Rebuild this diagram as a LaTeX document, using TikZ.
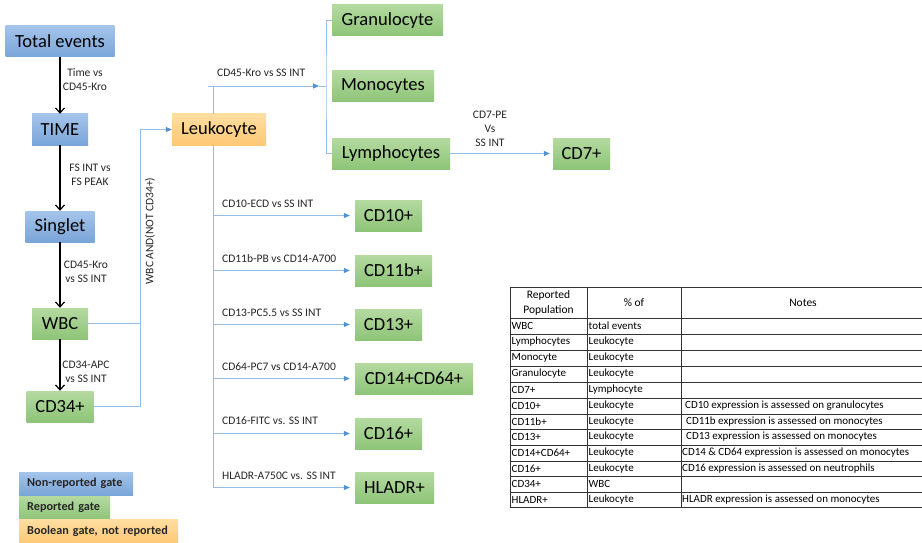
\documentclass[tikz,border=0pt]{standalone}
\usepackage{fontspec}
\setmainfont{Carlito}
\usetikzlibrary{arrows.meta}
\definecolor{bluetop}{RGB}{164,196,234}
\definecolor{bluebot}{RGB}{122,165,216}
\definecolor{greentop}{RGB}{180,218,160}
\definecolor{greenbot}{RGB}{142,196,120}
\definecolor{orangetop}{RGB}{255,222,160}
\definecolor{orangebot}{RGB}{255,200,118}
\definecolor{lineblue}{RGB}{150,190,230}
\definecolor{arrowblue}{RGB}{80,145,210}
\begin{document}
\begin{tikzpicture}[x=1pt,y=-1pt,
  box/.style={inner sep=0pt, font=\fontsize{18.5}{20}\selectfont, text=black},
  nrbox/.style={box, top color=bluetop, bottom color=bluebot},
  rbox/.style={box, top color=greentop, bottom color=greenbot},
  obox/.style={box, top color=orangetop, bottom color=orangebot},
  lbl/.style={inner sep=0pt, font=\fontsize{11.5}{14}\selectfont, align=center, text=black!85},
  tbl/.style={inner sep=0pt, font=\fontsize{11}{13}\selectfont, text=black},
  leg/.style={inner xsep=8pt, inner ysep=0pt, minimum height=23pt, align=left,
    font=\bfseries\fontsize{12.2}{13}\selectfont, text=black!85},
  blk/.style={-{Straight Barb[length=5pt,width=9pt]}, line width=1.2pt, black},
  bl/.style={draw=lineblue, line width=0.8pt},
  bla/.style={bl, -{Triangle[length=6pt,width=5pt,color=arrowblue,fill=arrowblue]}}
]
\useasboundingbox (0,0) rectangle (922,543);
\fill[white] (0,0) rectangle (922,543);

% left column
\node[nrbox, minimum width=109pt, minimum height=31pt] (tot) at (60,41.5) {Total events};
\node[nrbox, minimum width=56pt, minimum height=31pt] (time) at (60,129.5) {TIME};
\node[nrbox, minimum width=69pt, minimum height=31pt] (sing) at (60,226.5) {Singlet};
\node[rbox, minimum width=56pt, minimum height=31pt] (wbc) at (60,323.5) {WBC};
\node[rbox, minimum width=67pt, minimum height=31pt] (cd34) at (60,406.5) {CD34+};

\draw[blk] (tot) -- (time);
\draw[blk] (time) -- (sing);
\draw[blk] (sing) -- (wbc);
\draw[blk] (wbc) -- (cd34);
\node[lbl] (l1) at (85,80) {Time vs\\CD45-Kro};
\node[lbl] (l2) at (90,175) {FS INT vs\\FS PEAK};
\node[lbl] (l3) at (86,272) {CD45-Kro\\vs SS INT};
\node[lbl] (l4) at (86,372) {CD34-APC\\vs SS INT};

% boolean gate
\node[obox, minimum width=94pt, minimum height=31pt] (leuk) at (219,129.5) {Leukocyte};
\coordinate (jtop) at (140,129.5);
\draw[bl] (wbc.east) -- (wbc.east -| jtop);
\draw[bl] (cd34.east) -| (jtop);
\draw[bla] (jtop) -- (leuk.west);
\node[lbl, rotate=90] (bool) at (150,231) {WBC AND(NOT CD34+)};

% top branch
\node[rbox, minimum width=111pt, minimum height=31pt] (gran) at (387.5,20.5) {Granulocyte};
\node[rbox, minimum width=102pt, minimum height=31pt] (mono) at (383,86.5) {Monocytes};
\node[rbox, minimum width=118pt, minimum height=31pt] (lymph) at (391,153.5) {Lymphocytes};
\node[rbox, minimum width=57pt, minimum height=31pt] (cd7) at (581.5,153.5) {CD7+};
\coordinate (kTop) at (213,86);
\coordinate (kL) at (208,86);
\coordinate (kR) at (319,86);
\coordinate (br) at (326,86);
\draw[bl] (kTop |- leuk.north) -- (kTop);
\draw[bla] (kL) -- (kR);
\draw[bl] (kR) -- (br);
\draw[bl] (gran.west) -| (br) |- (lymph.west);
\node[lbl, anchor=west] (l5) at (217,73) {CD45-Kro vs SS INT};
\draw[bla, shorten >=3pt] (lymph.east) -- (cd7.west);
\node[lbl] (l6) at (490,129) {CD7-PE\\Vs\\SS INT};

% bottom branches
\node[rbox, minimum width=67pt, minimum height=31pt] (cd10) at (388.5,215.5) {CD10+};
\node[rbox, minimum width=77pt, minimum height=31pt] (cd11) at (393.5,270.5) {CD11b+};
\node[rbox, minimum width=67pt, minimum height=31pt] (cd13) at (388.5,324.5) {CD13+};
\node[rbox, minimum width=118pt, minimum height=31pt] (cd14) at (414,378.5) {CD14+CD64+};
\node[rbox, minimum width=67pt, minimum height=31pt] (cd16) at (388.5,433.5) {CD16+};
\node[rbox, minimum width=79pt, minimum height=31pt] (hla) at (394.5,487.5) {HLADR+};
\draw[bl] (kTop |- leuk.south) -- (kTop |- hla.west);
\foreach \n in {cd10,cd11,cd13,cd14,cd16,hla}{
  \draw[bla, shorten >=5pt] (kTop |- \n.west) -- (\n.west);
}
\node[lbl, anchor=west] (t10) at (222,203.5) {CD10-ECD vs SS INT};
\node[lbl, anchor=west] (t11) at (222,258.5) {CD11b-PB vs CD14-A700};
\node[lbl, anchor=west] (t13) at (222,312.5) {CD13-PC5.5 vs SS INT};
\node[lbl, anchor=west] (t14) at (222,366.5) {CD64-PC7 vs CD14-A700};
\node[lbl, anchor=west] (t16) at (222,421) {CD16-FITC vs. SS INT};
\node[lbl, anchor=west] (t17) at (222,475.5) {HLADR-A750C vs. SS INT};

% legend
\node[leg, anchor=north west, top color=bluetop, bottom color=bluebot, text width=98pt] (g1) at (19,472) {Non-reported gate};
\node[leg, anchor=north west, top color=greentop, bottom color=greenbot, text width=75pt] (g2) at (19,496) {Reported gate};
\node[leg, anchor=north west, top color=orangetop, bottom color=orangebot, text width=143pt] (g3) at (19,519.5) {Boolean gate, not reported};

% table
\begin{scope}[line width=0.9pt, black!80]
  \draw (922,287) -- (510,287) -- (510,507) -- (922,507);
  \foreach \y in {318,334,350,366,382,398,414,429,445,461,476,492}{\draw (510,\y) -- (922,\y);}
  \draw (587,287) -- (587,507);
  \draw (681,287) -- (681,507);
\end{scope}
\node[tbl, align=center, font=\fontsize{11.5}{15}\selectfont] (h1) at (548.5,303) {Reported\\Population};
\node[tbl, font=\fontsize{11.5}{13}\selectfont] (h2) at (634,303) {\% of};
\node[tbl, font=\fontsize{11.5}{13}\selectfont] (h3) at (803,303) {Notes};
\foreach \i/\a/\b/\c/\x [count=\k] in {
  326/WBC/total events//683,
  342/Lymphocytes/Leukocyte//683,
  358/Monocyte/Leukocyte//683,
  374/Granulocyte/Leukocyte//683,
  390/CD7+/Lymphocyte//683,
  406/CD10+/Leukocyte/CD10 expression is assessed on granulocytes/685,
  422/CD11b+/Leukocyte/CD11b expression is assessed on monocytes/686,
  437/CD13+/Leukocyte/CD13 expression is assessed on monocytes/686,
  453/CD14+CD64+/Leukocyte/CD14 \& CD64 expression is assessed on monocytes/682,
  468.5/CD16+/Leukocyte/CD16 expression is assessed on neutrophils/682,
  484/CD34+/WBC//683,
  499.5/HLADR+/Leukocyte/HLADR expression is assessed on monocytes/682}{
  \node[tbl, anchor=west] (ra\k) at (511.5,\i) {\a};
  \node[tbl, anchor=west] (rb\k) at (588.5,\i) {\b};
  \node[tbl, anchor=west] (rc\k) at (\x,\i) {\c};
}
\end{tikzpicture}
\end{document}
